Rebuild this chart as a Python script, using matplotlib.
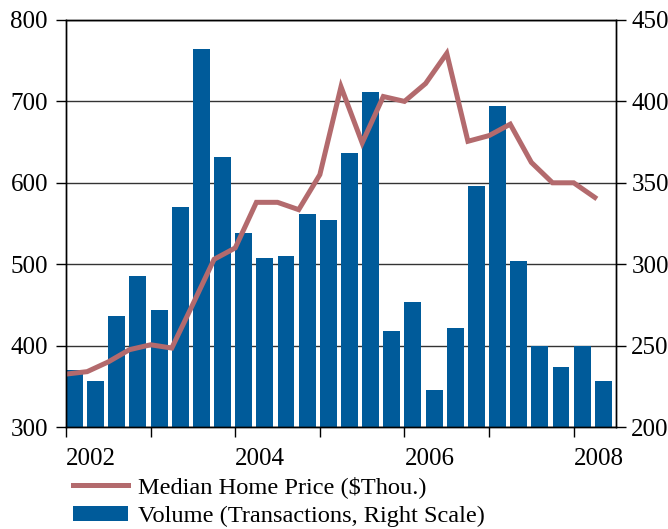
import matplotlib
matplotlib.use("Agg")
import matplotlib.pyplot as plt

plt.rcParams['font.family'] = ['Liberation Serif', 'DejaVu Serif']

# quarterly data, 2002Q1 .. 2008Q2
quarters = [2002 + i * 0.25 for i in range(26)]
price = [365, 368, 380, 395, 401, 397, 451, 506, 520, 576, 576, 567, 610,
         718, 649, 706, 700, 722, 759, 651, 658, 672, 625, 600, 600, 582]
volume = [235, 228, 268, 293, 272, 335, 432, 366, 319, 304, 305, 331, 327,
          368, 406, 259, 277, 223, 261, 348, 397, 302, 250, 237, 250, 228]
year_ticks = [2002, 2003, 2004, 2005, 2006, 2007, 2008]
year_labels = ['2002', '', '2004', '', '2006', '', '2008']

bar_color = '#005b9a'
line_color = '#b36a6d'

fig = plt.figure(figsize=(6.68, 5.29), dpi=100)
ax_bar = fig.add_axes([66 / 668, 1 - 427 / 529, 550 / 668, 407 / 529])
ax_line = ax_bar.twinx()

# bars on the right scale
ax_bar.bar(quarters, volume, width=0.2, align='edge', color=bar_color,
           label='Volume (Transactions, Right Scale)')
ax_bar.set_ylim(200, 450)
ax_bar.set_yticks([200, 250, 300, 350, 400, 450])
ax_bar.yaxis.tick_right()
ax_bar.set_axisbelow(True)
ax_bar.grid(axis='y', color='#333333', linewidth=1)

# price line on the left scale
ax_line.plot(quarters, price, color=line_color, linewidth=3.6,
             solid_joinstyle='miter', label='Median Home Price ($Thou.)')
ax_line.set_ylim(300, 800)
ax_line.set_yticks([300, 400, 500, 600, 700, 800])
ax_line.yaxis.tick_left()

ax_bar.set_xlim(2002, 2008.5)
ax_bar.set_xticks(year_ticks)
ax_bar.set_xticklabels(year_labels, ha='left')

for a in (ax_bar, ax_line):
    a.tick_params(labelsize=18, length=7, width=1, direction='out', colors='black')
    for s in a.spines.values():
        s.set_color('black')
        s.set_linewidth(1)
ax_bar.tick_params(axis='x', pad=8)
ax_line.tick_params(axis='y', pad=6)
ax_bar.tick_params(axis='y', pad=4)

h1, l1 = ax_line.get_legend_handles_labels()
h2, l2 = ax_bar.get_legend_handles_labels()
fig.legend(h1 + h2, l1 + l2, loc='upper left',
           bbox_to_anchor=(73 / 668, 1 - 476 / 529), frameon=False,
           fontsize=17.6, borderpad=0, borderaxespad=0, handlelength=2.25,
           handletextpad=0.4, labelspacing=0.32, handleheight=0.6)

fig.savefig('out.png', dpi=100)
